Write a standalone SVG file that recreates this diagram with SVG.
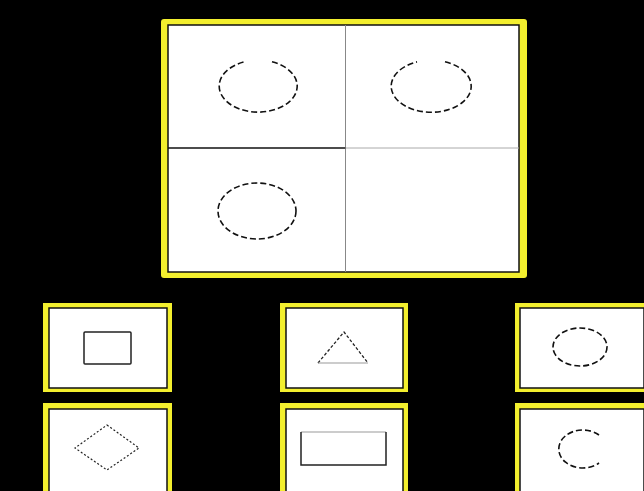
<svg xmlns="http://www.w3.org/2000/svg" width="644" height="491" viewBox="0 0 644 491">
<style>
.frame{fill:#f3ef2e}
.panel{fill:#ffffff;stroke:#111;stroke-width:1.5}
.dash{fill:none;stroke:#111;stroke-width:1.6;stroke-dasharray:6 3}
.solid{fill:none;stroke:#222;stroke-width:1.5}
.thin{fill:none;stroke:#999;stroke-width:1}
</style>
<rect x="0" y="0" width="644" height="491" fill="#000"/>
<g id="matrix">
<rect class="frame" x="161" y="19" width="366" height="259" rx="3"/>
<rect class="panel" x="168" y="25" width="351" height="247"/>
<line x1="345.5" y1="25" x2="345.5" y2="272" stroke="#888" stroke-width="1"/>
<line x1="168" y1="148" x2="345.5" y2="148" stroke="#111" stroke-width="1.5"/>
<line x1="345.5" y1="148" x2="519" y2="148" stroke="#aaa" stroke-width="1"/>
<path class="dash" d="M272,61.8 A39,26 0 1 1 244,61.9"/>
<path class="dash" d="M445,61.8 A40,26 0 1 1 417,61.9"/>
<ellipse class="dash" cx="257" cy="211" rx="39" ry="28"/>
</g>
<g id="option1">
<rect class="frame" x="43" y="303" width="129" height="89"/>
<rect class="panel" x="49" y="308" width="118" height="80"/>
<rect class="solid" x="84" y="332" width="47" height="32" rx="1"/>
</g>
<g id="option2">
<rect class="frame" x="280" y="303" width="128" height="89"/>
<rect class="panel" x="286" y="308" width="117" height="80"/>
<path d="M318,363 L344,332 L368,363" fill="none" stroke="#222" stroke-width="1.3" stroke-dasharray="3 2"/>
<line class="thin" x1="318" y1="363" x2="368" y2="363"/>
</g>
<g id="option3">
<rect class="frame" x="515" y="303" width="129" height="89"/>
<rect class="panel" x="520" y="308" width="124" height="80"/>
<ellipse class="dash" cx="580" cy="347" rx="27" ry="19"/>
</g>
<g id="option4">
<rect class="frame" x="43" y="403" width="129" height="92"/>
<rect class="panel" x="49" y="409" width="118" height="85"/>
<path d="M107,425 L139,448 L107,470 L75,448 Z" fill="none" stroke="#222" stroke-width="1.2" stroke-dasharray="2 2"/>
</g>
<g id="option5">
<rect class="frame" x="280" y="403" width="128" height="92"/>
<rect class="panel" x="286" y="409" width="117" height="85"/>
<line class="thin" x1="301" y1="432" x2="386" y2="432"/>
<path class="solid" d="M301,432 L301,465 L386,465 L386,432"/>
</g>
<g id="option6">
<rect class="frame" x="515" y="403" width="129" height="92"/>
<rect class="panel" x="520" y="409" width="124" height="85"/>
<path class="dash" d="M599,435 A24,19 0 1 0 599,463"/>
</g>
</svg>
